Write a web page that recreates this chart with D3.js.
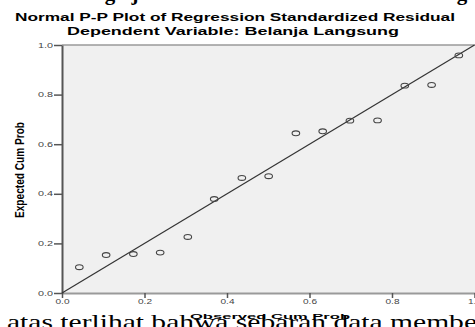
<!DOCTYPE html>
<html>
<head>
<meta charset="utf-8">
<script src="https://cdn.jsdelivr.net/npm/d3@7"></script>
<style>
  body { margin: 0; background: #fff; }
  svg { display: block; }
</style>
</head>
<body>
<div id="chart"></div>
<script>
var svgWidth = 475;
var svgHeight = 327;

// observed cum prob (x) and expected cum prob (y)
var observed = [0.042, 0.107, 0.173, 0.238, 0.305, 0.369, 0.436, 0.501, 0.567, 0.632, 0.698, 0.765, 0.831, 0.896, 0.962];
var expected = [0.104, 0.153, 0.157, 0.163, 0.226, 0.379, 0.464, 0.471, 0.644, 0.652, 0.695, 0.696, 0.836, 0.839, 0.958];
var tickValues = [0, 0.2, 0.4, 0.6, 0.8, 1.0];
var titleText = "Normal P-P Plot of Regression Standardized Residual";
var subtitleText = "Dependent Variable: Belanja Langsung";
var xLabel = "Observed Cum Prob";
var yLabel = "Expected Cum Prob";
var pageText = "atas terlihat bahwa sebaran data membe";

var plot = { left: 62, right: 474.5, top: 45, bottom: 293 };

var svg = d3.select("#chart")
  .append("svg")
  .attr("width", svgWidth)
  .attr("height", svgHeight);

var x = d3.scaleLinear().domain([0, 1]).range([plot.left, plot.right]);
var y = d3.scaleLinear().domain([0, 1]).range([plot.bottom, plot.top]);

// descenders of the document heading above the chart
[["g", 110], ["j", 135], ["g", 462]].forEach(function(g) {
  svg.append("text")
    .attr("x", g[1])
    .attr("y", 0)
    .attr("text-anchor", "middle")
    .attr("font-family", "Liberation Serif, serif")
    .attr("font-weight", "bold")
    .attr("font-size", 21)
    .attr("fill", "#000")
    .text(g[0]);
});

// plot background
svg.append("rect")
  .attr("x", plot.left)
  .attr("y", plot.top)
  .attr("width", svgWidth - plot.left)
  .attr("height", plot.bottom - plot.top)
  .attr("fill", "#f0f0f0")
  .attr("stroke", "none");

// top frame line
svg.append("line")
  .attr("x1", plot.left).attr("x2", svgWidth)
  .attr("y1", plot.top).attr("y2", plot.top)
  .attr("stroke", "#9a9a9a")
  .attr("stroke-width", 1.5);

// titles
svg.append("text")
  .attr("x", 235)
  .attr("y", 20.5)
  .attr("text-anchor", "middle")
  .attr("font-family", "Liberation Sans, Arial, sans-serif")
  .attr("font-weight", "bold")
  .attr("font-size", 10.5)
  .attr("textLength", 440)
  .attr("lengthAdjust", "spacingAndGlyphs")
  .text(titleText);

svg.append("text")
  .attr("x", 233)
  .attr("y", 34.5)
  .attr("text-anchor", "middle")
  .attr("font-family", "Liberation Sans, Arial, sans-serif")
  .attr("font-weight", "bold")
  .attr("font-size", 10.5)
  .attr("textLength", 332)
  .attr("lengthAdjust", "spacingAndGlyphs")
  .text(subtitleText);

// axes
var xAxis = svg.append("g")
  .attr("transform", `translate(0, ${plot.bottom})`)
  .call(d3.axisBottom(x).tickValues(tickValues).tickFormat(d3.format(".1f")).tickSize(5).tickSizeOuter(0).tickPadding(1));

xAxis.select(".domain")
  .attr("stroke", "#9a9a9a")
  .attr("stroke-width", 2);
xAxis.selectAll(".tick line").attr("stroke", "#555").attr("stroke-width", 1.5);
xAxis.selectAll(".tick text")
  .attr("font-family", "Liberation Sans, Arial, sans-serif")
  .attr("font-size", 6.5)
  .attr("fill", "#444")
  .attr("textLength", 14)
  .attr("lengthAdjust", "spacingAndGlyphs");

var yAxis = svg.append("g")
  .attr("transform", `translate(${plot.left}, 0)`)
  .call(d3.axisLeft(y).tickValues(tickValues).tickFormat(d3.format(".1f")).tickSize(8).tickSizeOuter(0).tickPadding(1));

yAxis.select(".domain")
  .attr("stroke", "#555")
  .attr("stroke-width", 2);
yAxis.selectAll(".tick line").attr("stroke", "#555").attr("stroke-width", 1.5);
yAxis.selectAll(".tick text")
  .attr("font-family", "Liberation Sans, Arial, sans-serif")
  .attr("font-size", 6.5)
  .attr("fill", "#444")
  .attr("textLength", 15)
  .attr("lengthAdjust", "spacingAndGlyphs");

// reference diagonal
svg.append("line")
  .attr("x1", x(0)).attr("y1", y(0))
  .attr("x2", x(1)).attr("y2", y(1))
  .attr("stroke", "#333")
  .attr("stroke-width", 1.2);

// points
svg.selectAll("ellipse.pt")
  .data(observed)
  .enter()
  .append("ellipse")
  .attr("class", "pt")
  .attr("cx", d => x(d))
  .attr("cy", (d, i) => y(expected[i]))
  .attr("rx", 3.8)
  .attr("ry", 2.4)
  .attr("fill", "none")
  .attr("stroke", "#444")
  .attr("stroke-width", 1.1);

// y label
svg.append("text")
  .attr("transform", "translate(24, 170) rotate(-90)")
  .attr("text-anchor", "middle")
  .attr("font-family", "Liberation Sans, Arial, sans-serif")
  .attr("font-weight", "bold")
  .attr("font-size", 12)
  .attr("textLength", 96)
  .attr("lengthAdjust", "spacingAndGlyphs")
  .text(yLabel);

// document text below the chart
svg.append("text")
  .attr("x", 7)
  .attr("y", 328.5)
  .attr("font-family", "Liberation Serif, Times New Roman, serif")
  .attr("font-size", 21)
  .attr("fill", "#000")
  .attr("textLength", 470)
  .attr("lengthAdjust", "spacingAndGlyphs")
  .text(pageText);

// x label
svg.append("text")
  .attr("x", 270)
  .attr("y", 319)
  .attr("text-anchor", "middle")
  .attr("font-family", "Liberation Sans, Arial, sans-serif")
  .attr("font-weight", "bold")
  .attr("font-size", 8)
  .attr("textLength", 160)
  .attr("lengthAdjust", "spacingAndGlyphs")
  .text(xLabel);
</script>
</body>
</html>
